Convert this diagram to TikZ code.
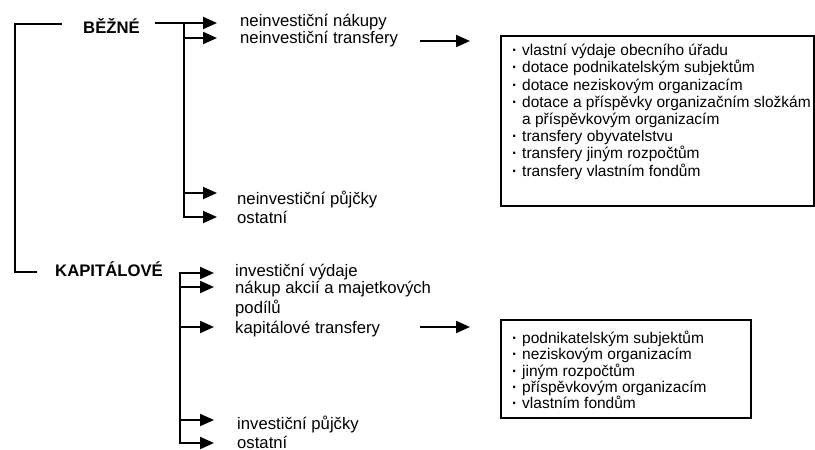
\documentclass[tikz,border=0pt]{standalone}
\usepackage{fontspec}
\setmainfont{Liberation Sans}
\usetikzlibrary{arrows.meta}

% small bullet used in the two lists
\newcommand\lbul{\makebox[10pt][l]{\textbf{·}}}

\begin{document}
\begin{tikzpicture}[x=1pt,y=-1pt,
  line/.style={line width=2pt},
  arr/.style={line width=2pt,-{Triangle[length=14pt,width=12pt]}},
  lbl/.style={anchor=base west,inner sep=0pt,font=\fontsize{16.7}{19.5}\selectfont,align=left},
  head/.style={lbl,font=\fontsize{16.7}{19.5}\selectfont\bfseries},
  frame/.style={draw,line width=2pt,anchor=north west,inner sep=0pt},
  listA/.style={anchor=north west,inner sep=0pt,align=left,font=\fontsize{15.5}{17.2}\selectfont},
  listB/.style={anchor=north west,inner sep=0pt,align=left,font=\fontsize{15.5}{16.3}\selectfont}]

\useasboundingbox (0,0) rectangle (815,450);

% category headings
\node[head] (bezne) at (83,33) {BĚŽNÉ};
\node[head] (kapital) at (55,276) {KAPITÁLOVÉ};

% bracket joining the two categories
\coordinate (bt) at (62,24);
\coordinate (bb) at (37,272);
\draw[line] (bt) -- ++(-47,0) |- (bb);

% current expenditure items
\node[lbl] (n1) at (240,26) {neinvestiční nákupy};
\node[lbl] (n2) at (240,43) {neinvestiční transfery};
\node[lbl] (n3) at (237,204) {neinvestiční půjčky};
\node[lbl] (n4) at (237,223) {ostatní};

\coordinate (bs) at (155,23);
\coordinate (sb) at (184,23);
\coordinate (t1) at (217,23);
\coordinate (t2) at (217,38);
\coordinate (t3) at (217,193);
\coordinate (t4) at (217,217);
\draw[arr] (bs) -- (t1);
\draw[line,line cap=rect] (sb) -- (sb |- t4);
\draw[arr] (sb |- t2) -- (t2);
\draw[arr] (sb |- t3) -- (t3);
\draw[arr] (sb |- t4) -- (t4);

% capital expenditure items (a two-line node sits on its last baseline)
\node[lbl] (k1) at (235,276) {investiční výdaje};
\node[lbl] (k2) at (235,313) {nákup akcií a majetkových\\podílů};
\node[lbl] (k3) at (235,333) {kapitálové transfery};
\node[lbl] (k4) at (237,429) {investiční půjčky};
\node[lbl] (k5) at (237,448) {ostatní};

\coordinate (kb) at (180,273);
\coordinate (u1) at (214,273);
\coordinate (u2) at (214,287);
\coordinate (u3) at (214,327);
\coordinate (u4) at (214,420);
\coordinate (u5) at (214,443);
\draw[line,line cap=rect] (kb) -- (kb |- u5);
\foreach \u in {u1,u2,u3,u4,u5}
  \draw[arr] (kb |- \u) -- (\u);

% detail boxes
\node[frame,minimum width=313pt,minimum height=170pt] (box1) at (500,35) {};
\node[listA] (list1) at (512,44) {%
\lbul vlastní výdaje obecního úřadu\\
\lbul dotace podnikatelským subjektům\\
\lbul dotace neziskovým organizacím\\
\lbul dotace a příspěvky organizačním složkám\\
\hspace*{10pt}a příspěvkovým organizacím\\
\lbul transfery obyvatelstvu\\
\lbul transfery jiným rozpočtům\\
\lbul transfery vlastním fondům};

\node[frame,minimum width=250pt,minimum height=98pt] (box2) at (500,319) {};
\node[listB] (list2) at (512,331) {%
\lbul podnikatelským subjektům\\
\lbul neziskovým organizacím\\
\lbul jiným rozpočtům\\
\lbul příspěvkovým organizacím\\
\lbul vlastním fondům};

% arrows into the detail boxes
\coordinate (a1s) at (420,41);
\coordinate (a2s) at (420,327);
\draw[arr] (a1s) -- ([xshift=-30pt]box1.west |- a1s);
\draw[arr] (a2s) -- ([xshift=-30pt]box2.west |- a2s);
\end{tikzpicture}
\end{document}
